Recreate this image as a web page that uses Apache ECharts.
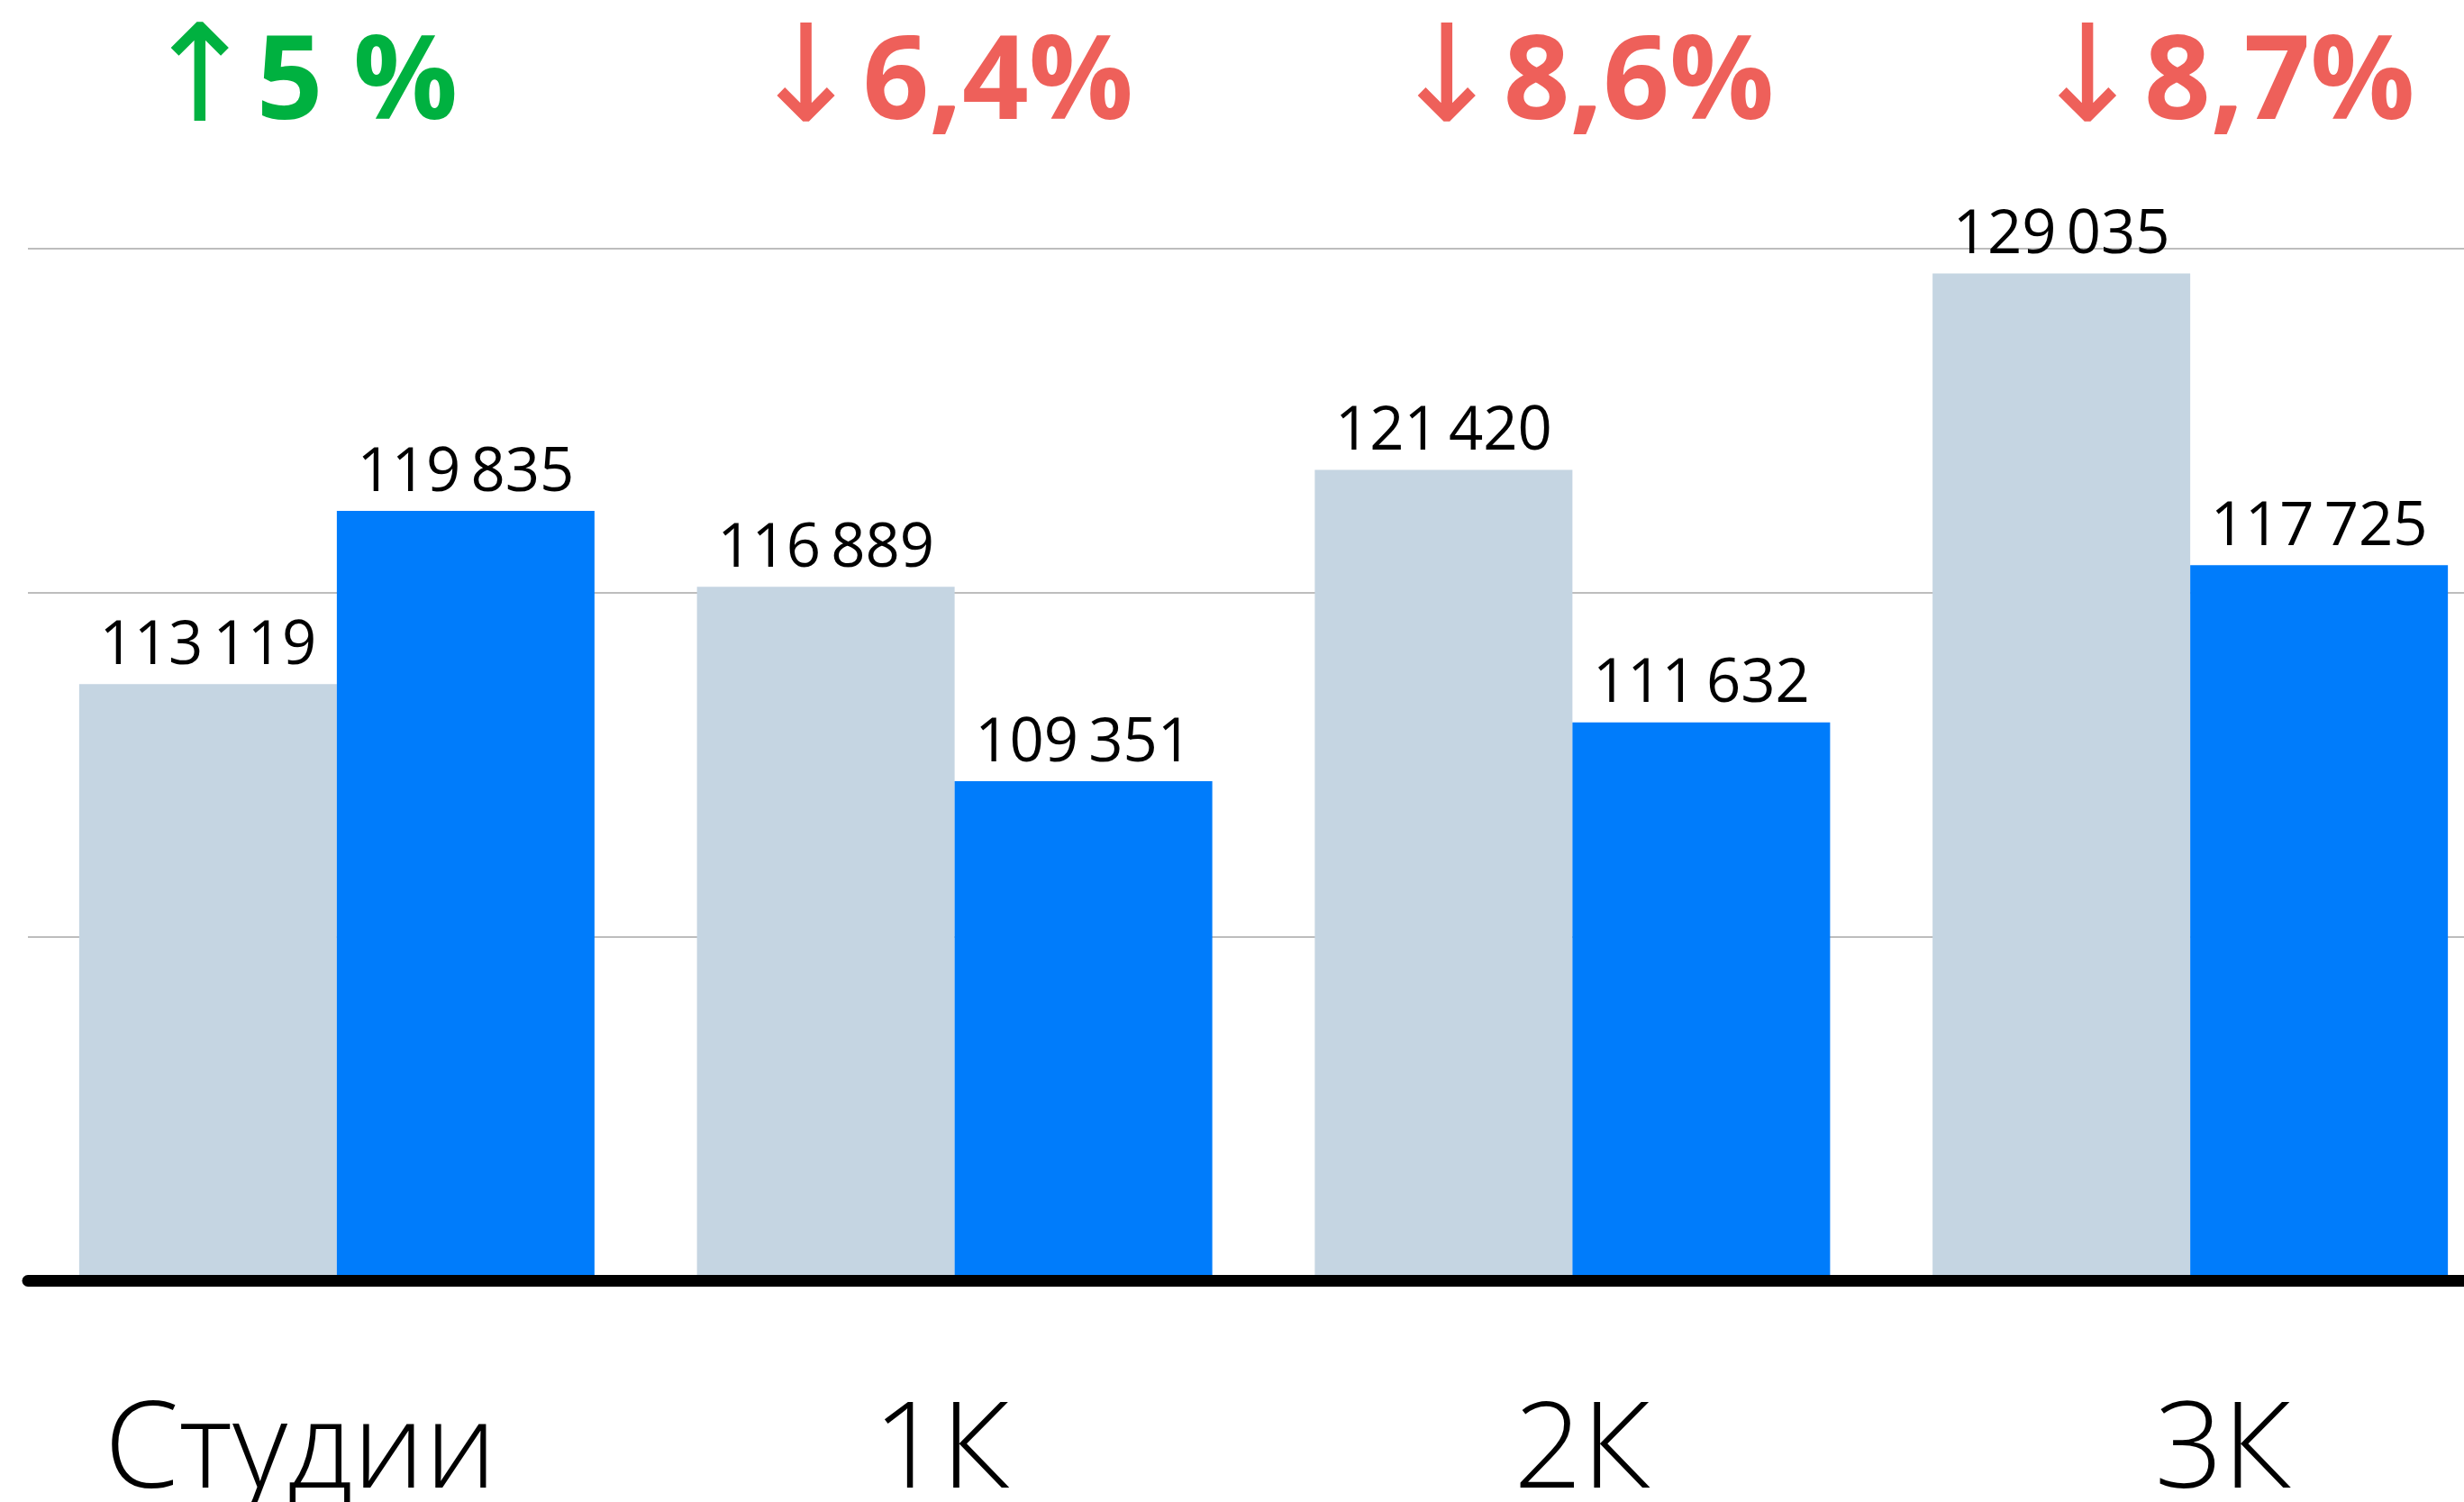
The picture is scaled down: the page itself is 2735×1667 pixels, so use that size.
<!DOCTYPE html>
<html>
<head>
<meta charset="utf-8">
<script src="https://cdn.jsdelivr.net/npm/echarts@6/dist/echarts.min.js"></script>
<style>
  html, body { margin: 0; padding: 0; background: #fff; }
  #chart { width: 2735px; height: 1667px; }
</style>
</head>
<body>
<div id="chart"></div>
<script>
// data
const categories = ['Студии', '1К', '2К', '3К']
const prevValues = [113119, 116889, 121420, 129035]
const currValues = [119835, 109351, 111632, 117725]
const changeValues = ['5 %', '6,4%', '8,6%', '8,7%']
const changeUp = [true, false, false, false]
const yMin = 90000
const yMax = 130000
const yStep = (yMax - yMin) / 3

const green = '#00b140'
const red = '#ee605a'

const fmt = (v) => String(v).replace(/\B(?=(\d{3})+(?!\d))/g, '\u2009')

const valueLabel = {
  show: true,
  position: 'top',
  distance: 8,
  formatter: (p) => fmt(p.value),
  fontFamily: 'Open Sans',
  fontSize: 67,
  color: '#000'
}

const chart = echarts.init(document.getElementById('chart'))
chart.setOption({
  backgroundColor: '#fff',
  animation: false,
  grid: [
    { left: 31, right: -39, top: 276, bottom: 246, outerBoundsMode: 'none' },
    // layer for the big category / change labels
    { left: -22, right: -88, top: 200, bottom: 247, outerBoundsMode: 'none' }
  ],
  xAxis: [
    {
      gridIndex: 0,
      type: 'category',
      data: categories,
      z: 5,
      axisLine: { lineStyle: { color: '#000', width: 13 } },
      axisTick: { show: false },
      axisLabel: { show: false }
    },
    {
      gridIndex: 1,
      type: 'category',
      data: categories,
      position: 'bottom',
      axisLine: { show: false },
      axisTick: { show: false },
      axisLabel: {
        margin: 193,
        verticalAlign: 'middle',
        fontFamily: 'Open Sans',
        fontWeight: 300,
        fontSize: 133,
        color: '#000'
      }
    },
    {
      gridIndex: 1,
      type: 'category',
      data: changeValues,
      position: 'top',
      axisLine: { show: false },
      axisTick: { show: false },
      axisLabel: {
        margin: 105,
        verticalAlign: 'middle',
        formatter: (v, i) => changeUp[i] ? '{upA|↑}{up|' + v + '}' : '{downA|↓}{down|' + v + '}',
        rich: {
          upA: { color: green, fontFamily: 'DejaVu Sans', fontSize: 150 },
          up: { color: green, fontFamily: 'Open Sans', fontWeight: 700, fontSize: 129 },
          downA: { color: red, fontFamily: 'DejaVu Sans', fontSize: 150 },
          down: { color: red, fontFamily: 'Open Sans', fontWeight: 700, fontSize: 129 }
        }
      }
    }
  ],
  yAxis: [
    {
      gridIndex: 0,
      type: 'value',
      min: yMin,
      max: yMax,
      interval: yStep,
      axisLine: { show: false },
      axisTick: { show: false },
      axisLabel: { show: false },
      splitLine: { lineStyle: { color: '#bdbdbd', width: 2 } }
    },
    {
      gridIndex: 1,
      type: 'value',
      show: false
    }
  ],
  series: [
    {
      name: 'Было',
      type: 'bar',
      xAxisIndex: 0,
      yAxisIndex: 0,
      data: prevValues,
      barWidth: 286,
      barGap: '0%',
      itemStyle: { color: '#c5d5e2' },
      label: valueLabel
    },
    {
      name: 'Стало',
      type: 'bar',
      xAxisIndex: 0,
      yAxisIndex: 0,
      data: currValues,
      barWidth: 286,
      barGap: '0%',
      itemStyle: { color: '#007cfb' },
      label: valueLabel
    }
  ]
})
</script>
</body>
</html>
